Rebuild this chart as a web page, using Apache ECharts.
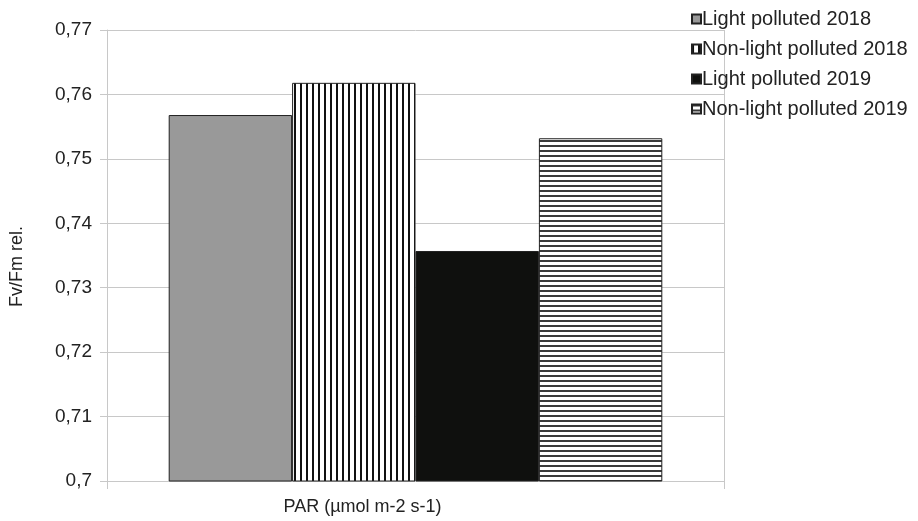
<!DOCTYPE html>
<html>
<head>
<meta charset="utf-8">
<script src="https://cdn.jsdelivr.net/npm/echarts@6/dist/echarts.min.js"></script>
<style>html,body{margin:0;padding:0;background:#fff}#c{width:918px;height:521px}</style>
</head>
<body>
<div id="c"></div>
<script>
const categories = ['PAR'];
const seriesNames = ['Light polluted 2018', 'Non-light polluted 2018', 'Light polluted 2019', 'Non-light polluted 2019'];
const values = [0.7568, 0.7618, 0.7357, 0.7532];
const yTicks = { min: 0.70, max: 0.77, interval: 0.01 };
const xTitle = 'PAR (µmol m-2 s-1)';
const yTitle = 'Fv/Fm rel.';

function stripes(dir, period, lw, col) {
  const c = document.createElement('canvas');
  c.width = period; c.height = period;
  const g = c.getContext('2d');
  g.fillStyle = '#fff'; g.fillRect(0, 0, period, period);
  g.fillStyle = col;
  if (dir === 'v') g.fillRect(0, 0, lw, period);
  else g.fillRect(0, 0, period, lw);
  return { image: c, repeat: 'repeat' };
}
const fills = ['#999999', stripes('v', 6, 2, '#111'), '#0f100e', stripes('h', 5, 2, '#3a3a3a')];

const chart = echarts.init(document.getElementById('c'));
const font = 'Liberation Sans, Arial, sans-serif';
const txt = '#222';
chart.setOption({
  animation: false,
  textStyle: { fontFamily: font },
  grid: { left: 107, right: 194, top: 30, bottom: 39 },
  legend: {
    orient: 'vertical', left: 686, top: 4,
    itemWidth: 9, itemHeight: 9, itemGap: 10,
    textStyle: { fontSize: 20, color: txt, fontFamily: font, padding: [0, 0, 0, -4] },
    data: seriesNames.map(n => ({ name: n, icon: 'rect' }))
  },
  xAxis: {
    type: 'category', data: categories,
    name: xTitle, nameLocation: 'middle', nameGap: 17,
    nameTextStyle: { fontSize: 18, color: txt, padding: [0, 106, 0, 0] },
    axisLabel: { show: false },
    axisLine: { lineStyle: { color: '#c8c8c8' } },
    axisTick: { show: true, length: 8, lineStyle: { color: '#c8c8c8' } },
    splitLine: { show: true, lineStyle: { color: '#c8c8c8' } }
  },
  yAxis: {
    type: 'value', min: yTicks.min, max: yTicks.max, interval: yTicks.interval,
    name: yTitle, nameLocation: 'middle', nameGap: 81,
    nameTextStyle: { fontSize: 18, color: txt, padding: [0, 22, 0, 0] },
    axisLine: { show: true, lineStyle: { color: '#c8c8c8' } },
    axisTick: { show: true, length: 7, lineStyle: { color: '#c8c8c8' } },
    axisLabel: { fontSize: 19, color: txt, margin: 15,
      formatter: v => String(+v.toFixed(2)).replace('.', ',') },
    splitLine: { lineStyle: { color: '#c8c8c8' } }
  },
  series: seriesNames.map((n, i) => ({
    name: n, type: 'bar', data: [values[i]],
    barGap: '0%', barCategoryGap: '20%',
    itemStyle: { color: fills[i], borderColor: '#222', borderWidth: 1 }
  }))
});
</script>
</body>
</html>
